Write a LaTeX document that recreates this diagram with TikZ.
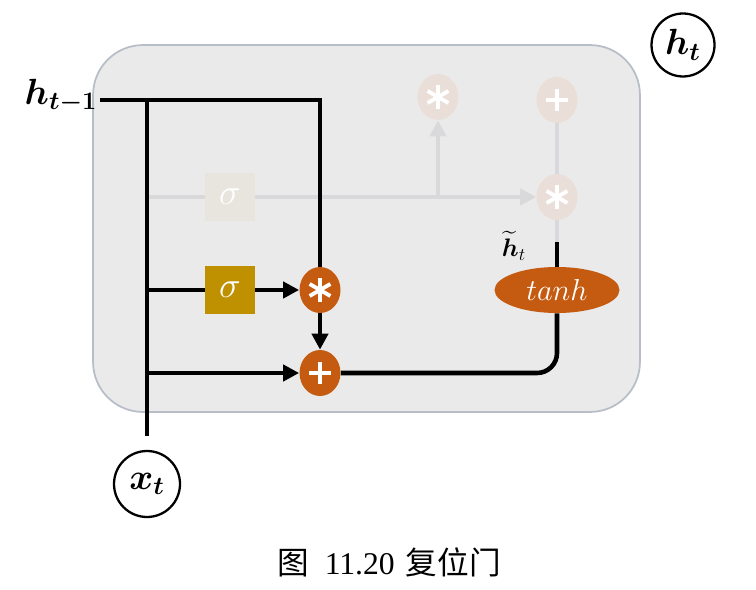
\documentclass[tikz,border=0pt]{standalone}
\usepackage{fontspec}
\usepackage{amsmath,bm}
\setmainfont{Liberation Serif}
\newfontfamily\cjk{Noto Sans CJK SC}
\usepackage{tikz}
\usetikzlibrary{shapes.geometric, arrows.meta, positioning, calc}
\definecolor{gateorange}{RGB}{197, 90, 17}
\definecolor{gategold}{RGB}{191, 144, 0}
\definecolor{cellgray}{RGB}{234, 234, 234}
\definecolor{cellborder}{RGB}{184, 190, 200}
\definecolor{fadeline}{RGB}{217, 217, 219}
\definecolor{fadeop}{RGB}{234, 222, 216}
\definecolor{fadesig}{RGB}{232, 229, 222}
\tikzstyle{cell} = [
    rectangle,
    rounded corners=1cm,
    minimum width=10.94cm,
    minimum height=7.34cm,
    draw=cellborder,
    line width=1pt,
    fill=cellgray
]
\tikzstyle{op} = [
    ellipse,
    minimum width=0.82cm,
    minimum height=0.92cm,
    inner sep=0pt,
    fill=gateorange
]
\tikzstyle{mul} = [
    op,
    path picture={
        \foreach \a in {90,30,150}
            \draw[white, line width=2.2pt] (path picture bounding box.center) ++(\a:0.24cm) -- ++(\a:-0.48cm);
    }
]
\tikzstyle{add} = [
    op,
    path picture={
        \draw[white, line width=2.2pt] (path picture bounding box.center) ++(0,0.22cm) -- ++(0,-0.44cm);
        \draw[white, line width=2.2pt] (path picture bounding box.center) ++(0.22cm,0) -- ++(-0.44cm,0);
    }
]
\tikzstyle{sigbox} = [
    rectangle,
    minimum width=1cm,
    minimum height=0.95cm,
    inner sep=0pt,
    fill=gategold,
    text=white,
    font=\huge
]
\tikzstyle{tanhbox} = [
    ellipse,
    minimum width=2.5cm,
    minimum height=0.92cm,
    inner sep=0pt,
    fill=gateorange,
    text=white,
    font=\LARGE
]
\tikzstyle{iocirc} = [
    circle,
    draw,
    line width=1.3pt,
    minimum size=1.32cm,
    inner sep=0pt,
    font=\huge
]
\tikzstyle{wire} = [
    line width=2.6pt,
    color=black
]
\tikzstyle{fadewire} = [
    line width=2.6pt,
    color=fadeline
]
\tikzstyle{arrow} = [
    -{Triangle[length=0.32cm, width=0.32cm]}
]

\begin{document}
\begin{tikzpicture}[x=0.02cm, y=-0.02cm]
    \useasboundingbox (0,0) rectangle (756,590);
    \node[cell] (cell) at (366.5,228.5) {};

    % faded part of the cell
    \node[sigbox, fill=fadesig] (sigf) at (230,197) {$\sigma$};
    \node[mul, fill=fadeop] (mulf) at (438,97) {};
    \node[mul, fill=fadeop] (mulz) at (557,197) {};
    \node[add, fill=fadeop] (addf) at (557,100) {};
    \coordinate (jfade) at (147,197);
    \coordinate (jbr) at (438,197);
    \coordinate (tantop) at (557,242);
    \draw[fadewire] (jfade) -- (sigf);
    \draw[fadewire, arrow] (sigf) -- (mulz);
    \draw[fadewire, arrow] (jbr) -- (mulf);
    \draw[fadewire] (addf) -- (mulz);
    \draw[fadewire] (mulz) -- (tantop);

    % reset gate
    \node[sigbox] (sig) at (230,290) {$\sigma$};
    \node[mul] (mul) at (320,290) {};
    \node[add] (add) at (320,373) {};
    \node[tanhbox] (tanh) at (557,290) {$tanh$};
    \node[iocirc] (xt) at (147,484) {$\bm{x_t}$};
    \node[iocirc, minimum size=1.26cm] (ht) at (683,45) {$\bm{h_t}$};
    \node[font=\huge] (hprev) at (61,96) {$\bm{h_{t-1}}$};
    \node[font=\Large] (htil) at (514,246) {$\widetilde{\bm{h}}_t$};

    \coordinate (hin) at (100,100);
    \coordinate (corner) at (320,100);
    \coordinate (jtop) at (147,100);
    \coordinate (jsig) at (147,290);
    \coordinate (jadd) at (147,373);
    \coordinate (turn) at (557,373);

    \draw[wire] (hin) -- (corner) -- (mul);
    \draw[wire] (jtop) -- ([yshift=0.28cm]xt.north);
    \draw[wire] (jsig) -- (sig);
    \draw[wire, arrow] (sig) -- (mul);
    \draw[wire, arrow] (mul) -- (add);
    \draw[wire, arrow] (jadd) -- (add);
    \draw[wire, rounded corners=0.4cm] (add) -- (turn) -- (tanh);
    \draw[wire] (tanh) -- (tantop);

    \node[font=\fontsize{18}{20}\selectfont] (caption) at (389,562) {{\cjk 图}\hspace{0.5em}11.20\hspace{0.35em}{\cjk 复位门}};
\end{tikzpicture}
\end{document}
